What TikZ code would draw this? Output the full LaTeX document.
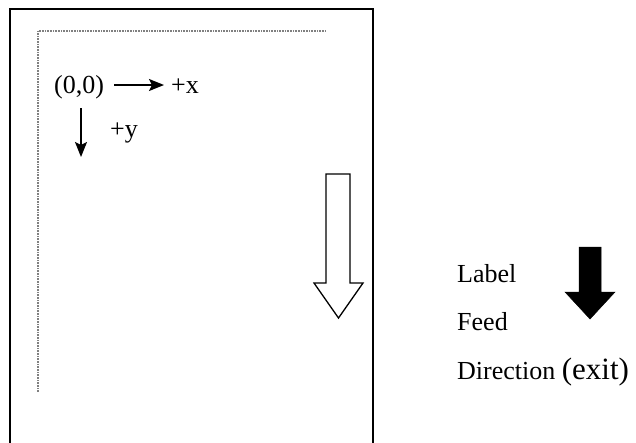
\documentclass[tikz,border=0pt]{standalone}
\usepackage{fontspec}
\setmainfont{Liberation Serif}
\usetikzlibrary{arrows.meta}
\tikzset{
  lbl/.style={inner sep=0pt, anchor=base west, font=\fontsize{26}{31}\selectfont},
  axis/.style={line width=1.6pt, -{Stealth[length=15pt,width=12pt,inset=3pt]}},
  frame/.style={line width=2.6pt, line cap=rect},
  guide/.style={gray, line width=1.2pt, dash pattern=on 0.8pt off 0.8pt},
  hollow/.style={draw, line width=1.3pt, fill=white, line join=miter},
  solid/.style={fill=black, draw=black, line width=0.5pt}
}
\begin{document}
\begin{tikzpicture}[x=1pt,y=-1pt]
\useasboundingbox (0,0) rectangle (636,442);
\clip (0,0) rectangle (636,442);
% outer frame (bottom edge off the picture)
\draw[frame] (10,450) -- (10,9) -- (373,9) -- (373,450);
% dotted guide
\draw[guide] (38,392) -- (38,31) -- (326,31);
% origin and axes
\node[lbl] (origin) at (54,93) {(0,0)};
\coordinate (xs) at (114,85);
\coordinate (xe) at (164,85);
\draw[axis] (xs) -- (xe);
\node[lbl] (px) at (171,93) {+x};
\coordinate (ys) at (81,108);
\coordinate (ye) at (81,157);
\draw[axis] (ys) -- (ye);
\node[lbl] (py) at (110,137) {+y};
% hollow feed arrow
\draw[hollow] (326,174) -- (350,174) -- (350,283) -- (363,283) -- (338.5,318) -- (314,283) -- (326,283) -- cycle;
% black legend arrow
\fill[solid] (579,247) -- (601,247) -- (601,292) -- (615,292) -- (590,319) -- (565,292) -- (579,292) -- cycle;
% legend text
\node[lbl] (label) at (457,282) {Label};
\node[lbl] (feed) at (457,330) {Feed};
\node[lbl] (dir) at (457,379) {Direction {\fontsize{31}{36}\selectfont(exit)}};
\end{tikzpicture}
\end{document}
